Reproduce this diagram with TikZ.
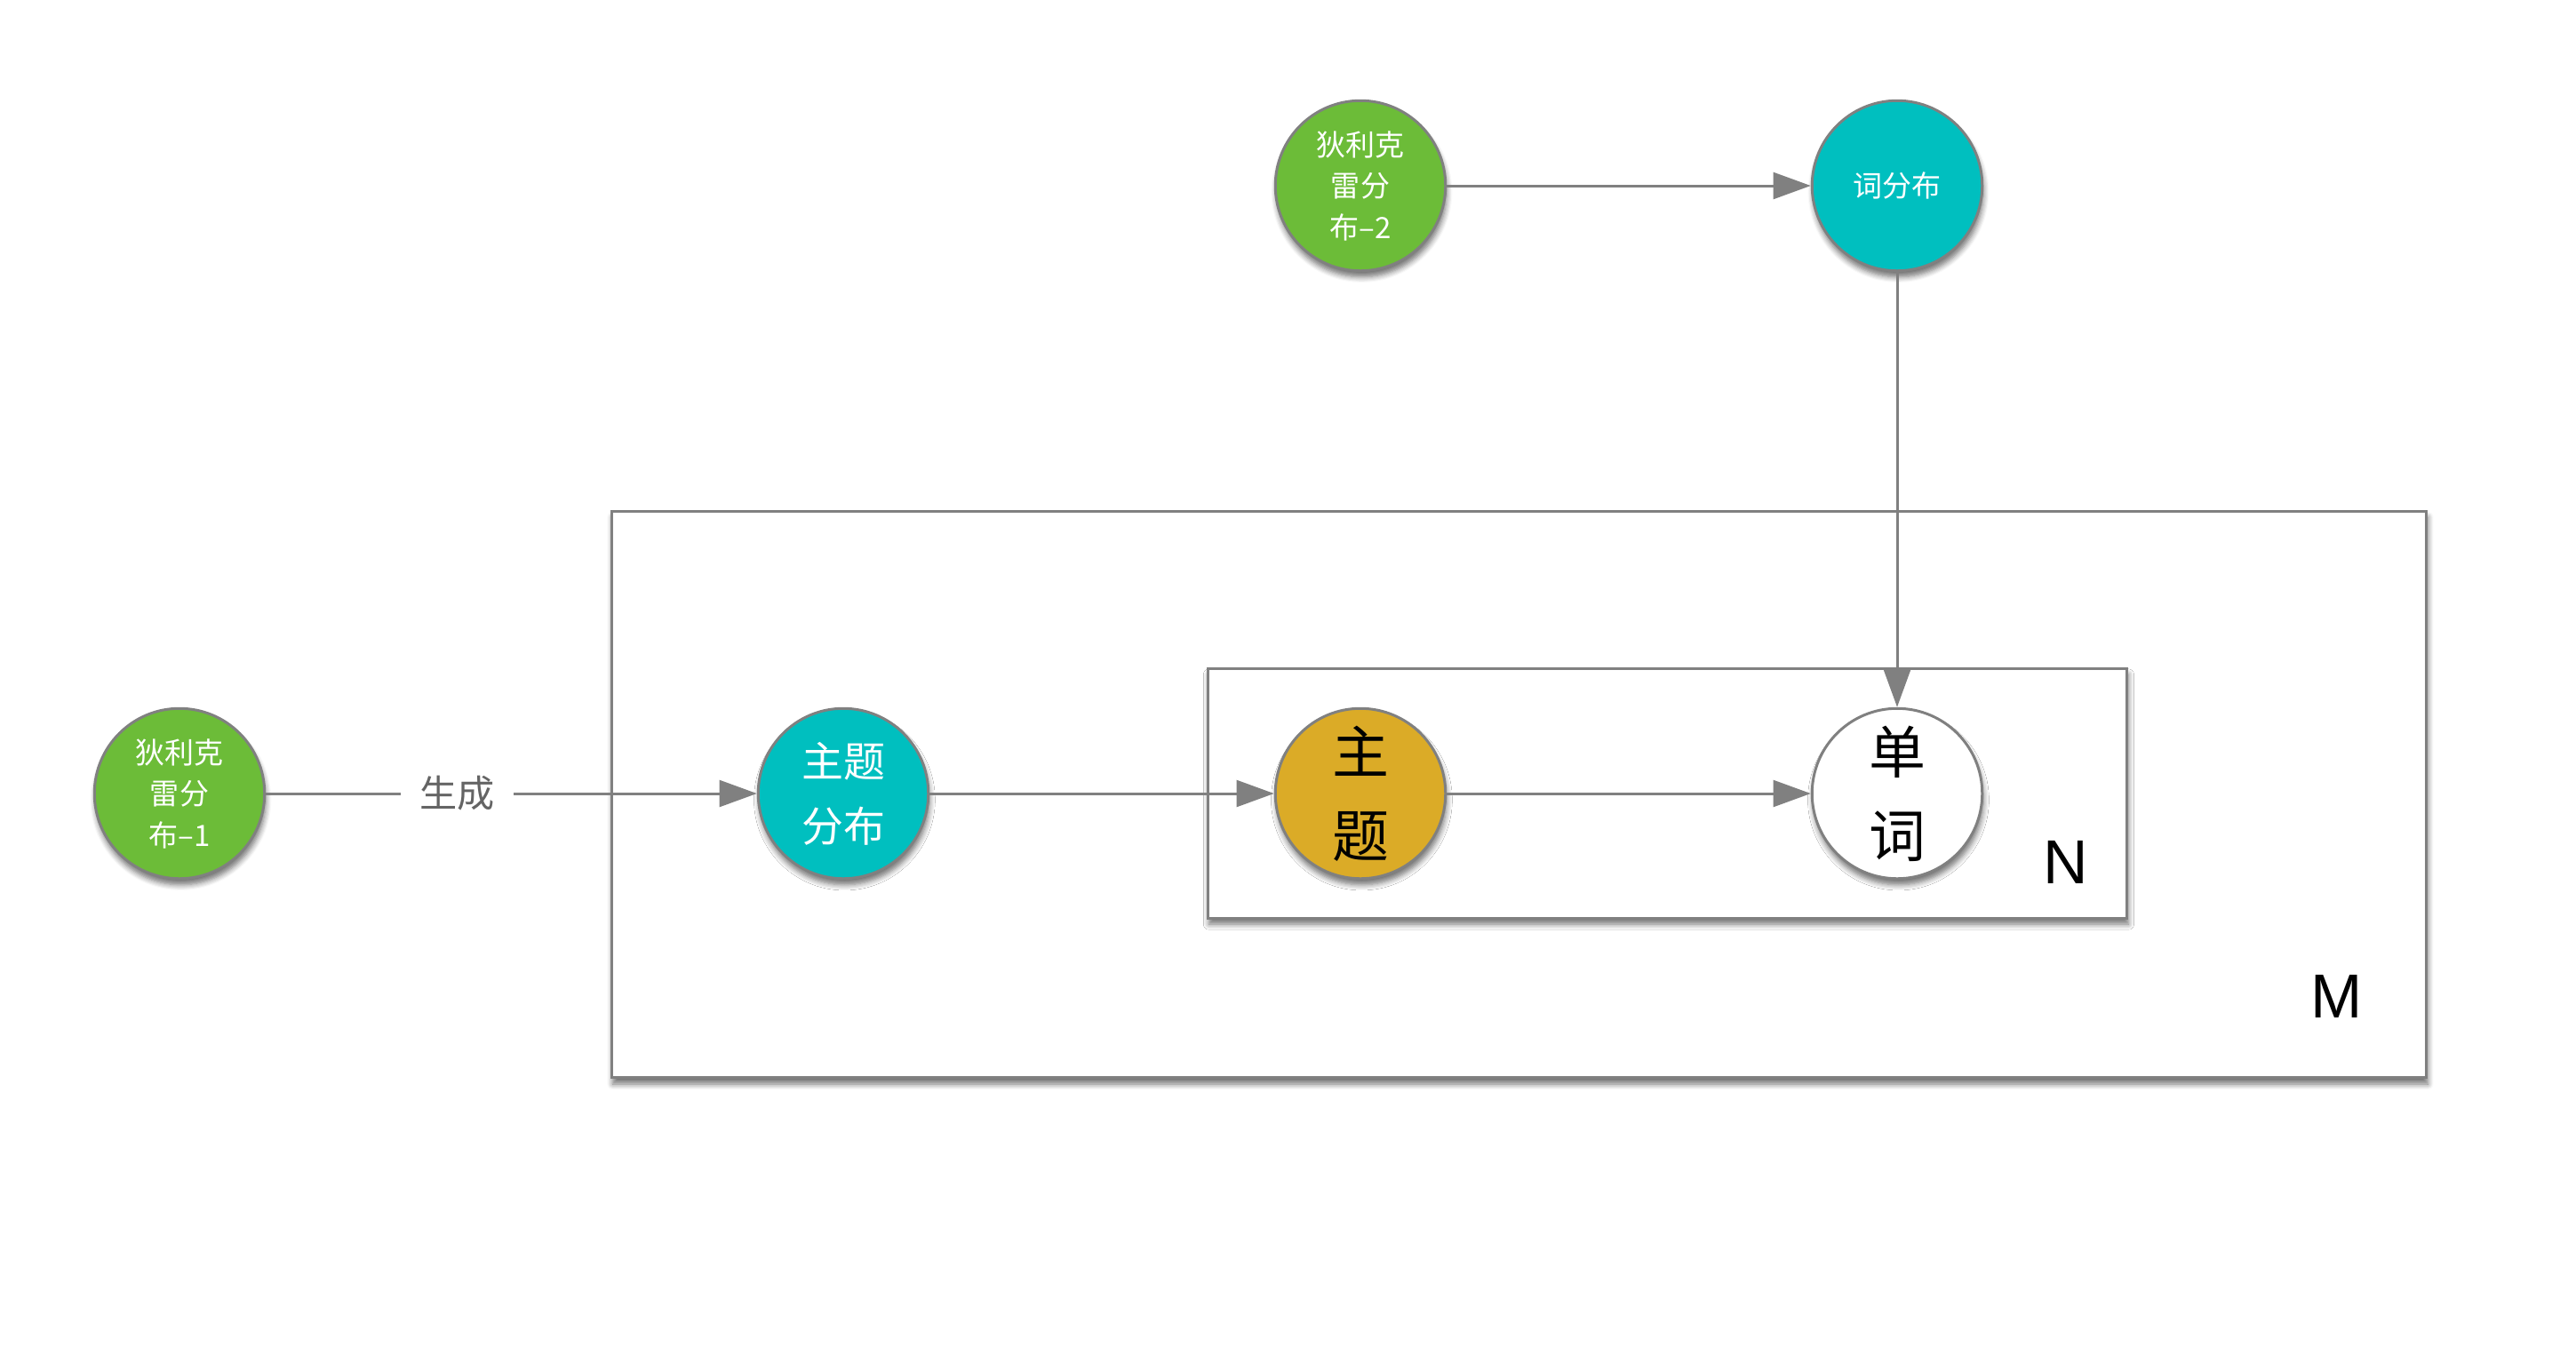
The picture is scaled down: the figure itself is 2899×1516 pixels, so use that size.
\documentclass[tikz,border=0pt]{standalone}
\usepackage{fontspec}
\setmainfont{Liberation Sans}
\newfontfamily\cjk{Noto Sans CJK SC}
\usetikzlibrary{arrows.meta,shadows.blur}
\definecolor{dgreen}{RGB}{108,188,56}
\definecolor{dcyan}{RGB}{0,191,191}
\definecolor{dgold}{RGB}{219,171,39}
\definecolor{edgegray}{RGB}{128,128,128}
\definecolor{labelgray}{RGB}{100,100,100}
\tikzset{
  myshadow/.style={blur shadow={shadow xshift=0.8pt,shadow yshift=-4pt,shadow blur steps=6,shadow opacity=55,shadow blur radius=3.5pt}},
  ball/.style={circle,draw=edgegray,line width=1.7pt,minimum size=109pt,inner sep=0pt,align=center,myshadow},
  smalltext/.style={font=\cjk\fontsize{18.8}{26.5}\selectfont,text=white},
  midtext/.style={font=\cjk\fontsize{26.7}{41.5}\selectfont,text=white},
  bigtext/.style={font=\cjk\fontsize{36.4}{53.5}\selectfont,text=black},
  plate/.style={draw=edgegray,line width=1.7pt,fill=white,myshadow},
  conn/.style={draw=edgegray,line width=1.7pt,-{Triangle[length=24pt,width=17pt]}},
  platelabel/.style={font=\fontsize{39.8}{44}\selectfont,text=black,inner sep=0pt}
}
\begin{document}
\begin{tikzpicture}[x=0.02cm,y=-0.02cm]
\useasboundingbox (0,0) rectangle (2899,1516);
% plates
\node[plate,minimum width=2043*0.5691pt,minimum height=638*0.5691pt,inner sep=0pt] (M) at (1709.5,894) {};
\node[plate,minimum width=1035*0.5691pt,minimum height=281*0.5691pt,inner sep=0pt] (N) at (1876.5,892.5) {};
\node[platelabel] (Nlab) at (2325,970) {N};
\node[platelabel] (Mlab) at (2630,1121) {M};
% nodes
\node[ball,fill=dgreen,smalltext] (d2) at (1531,209) {狄利克\\雷分\\布–2};
\node[ball,fill=dcyan,smalltext] (wd) at (2135,209) {词分布};
\node[ball,fill=dgreen,smalltext] (d1) at (202,893) {狄利克\\雷分\\布–1};
\node[ball,fill=dcyan,midtext] (td) at (949,893) {主题\\分布};
\node[ball,fill=dgold,bigtext] (tp) at (1531,893) {主\\题};
\node[ball,fill=white,bigtext] (wo) at (2135,893) {单\\词};
% connectors
\draw[conn] (d2) -- (wd);
\draw[conn] (wd) -- (wo);
\draw[conn] (d1) -- node[pos=0.39,fill=white,inner xsep=12pt,inner ysep=2pt,font=\cjk\fontsize{24}{28}\selectfont,text=labelgray] (gen) {生成} (td);
\draw[conn] (td) -- (tp);
\draw[conn] (tp) -- (wo);
\end{tikzpicture}
\end{document}
